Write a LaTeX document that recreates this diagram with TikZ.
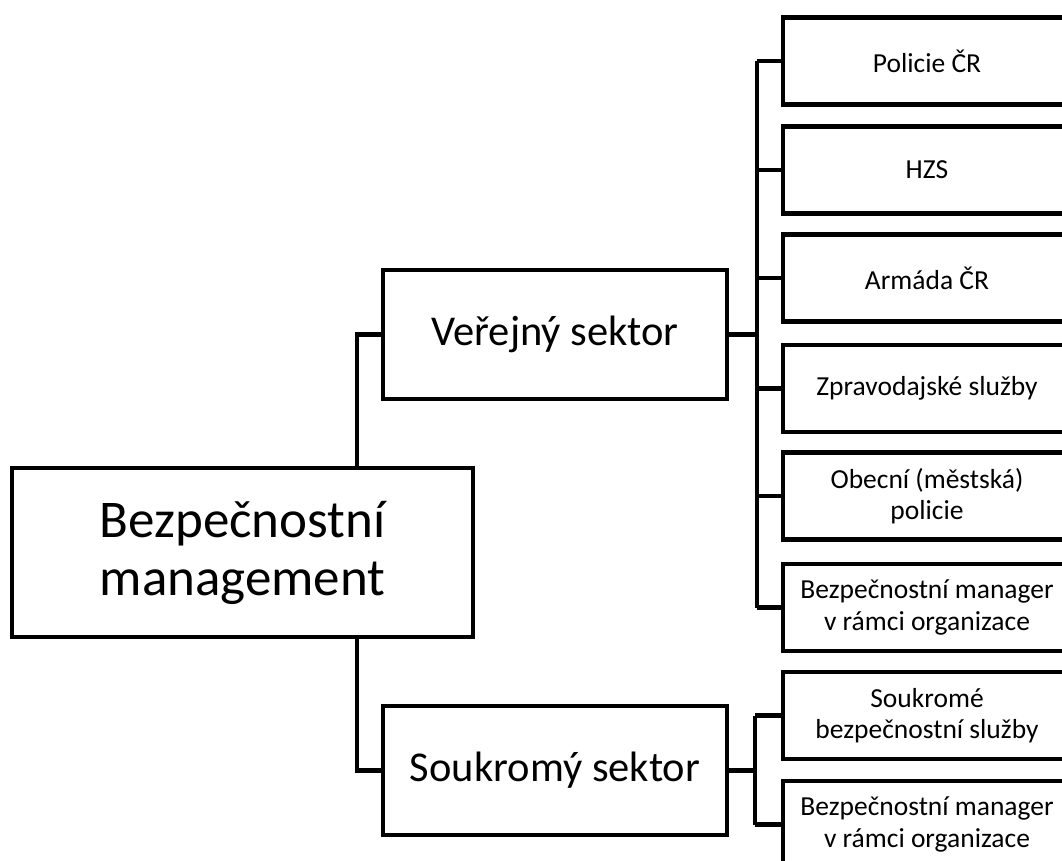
\documentclass[tikz,border=0pt]{standalone}
\usepackage{fontspec}
\setmainfont{Carlito}
\begin{document}
\begin{tikzpicture}[x=1pt,y=-1pt,line width=4.5pt,
  box/.style={draw=black,rectangle,inner sep=0pt,align=center,fill=white},
  rootbox/.style={box,minimum width=461pt,minimum height=169pt,font=\fontsize{53}{58}\selectfont},
  secbox/.style={box,minimum width=344pt,minimum height=129pt,font=\fontsize{42.5}{50}\selectfont},
  leafbox/.style={box,minimum width=288pt,minimum height=87pt,font=\fontsize{27.5}{31.5}\selectfont},
  link/.style={draw=black,line width=4.5pt}]
\clip (0,0) rectangle (1062,861);
\fill[white] (0,0) rectangle (1062,861);
\node[rootbox] (root) at (242.5,552.5) {Bezpečnostní\\management};
\node[secbox] (pub) at (555,334.5) {Veřejný sektor};
\node[secbox] (priv) at (555,770.5) {Soukromý sektor};
\node[leafbox] (c1) at (927,61) {Policie ČR};
\node[leafbox] (c2) at (927,170) {HZS};
\node[leafbox] (c3) at (927,278) {Armáda ČR};
\node[leafbox] (c4) at (927,388.5) {Zpravodajské služby};
\node[leafbox] (c5) at (927,496) {Obecní (městská)\\policie};
\node[leafbox] (c6) at (927,607.5) {Bezpečnostní manager\\v rámci organizace};
\node[leafbox] (c7) at (927,715.5) {Soukromé\\bezpečnostní služby};
\node[leafbox] (c8) at (927,824.5) {Bezpečnostní manager\\v rámci organizace};
\coordinate (rj) at (357,0);
\coordinate (pb) at (757,0);
\coordinate (qb) at (755,0);
\draw[link] (root.north -| rj) |- (pub.west);
\draw[link] (root.south -| rj) |- (priv.west);
\draw[link] (pub.east) -- (pub.east -| pb);
\draw[link] (c1.west -| pb) -- (c6.west -| pb);
\foreach \c in {c1,c2,c3,c4,c5,c6} \draw[link] (\c.west -| pb) -- (\c.west);
\draw[link] (priv.east) -- (priv.east -| qb);
\draw[link] (c7.west -| qb) -- (c8.west -| qb);
\foreach \c in {c7,c8} \draw[link] (\c.west -| qb) -- (\c.west);
\end{tikzpicture}
\end{document}
